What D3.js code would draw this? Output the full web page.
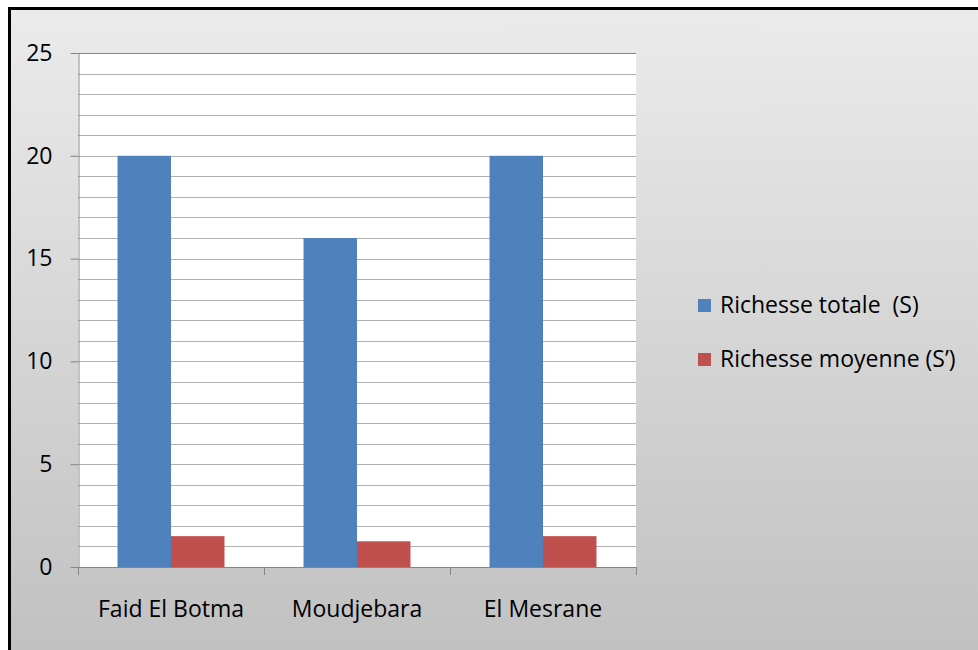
<!DOCTYPE html>
<html>
<head>
<meta charset="utf-8">
<script src="https://cdn.jsdelivr.net/npm/d3@7"></script>
<style>
  body { margin: 0; background: #fff; }
  text { font-family: "Open Sans", sans-serif; fill: #000; }
</style>
</head>
<body>
<div id="chart"></div>
<script>
// données
const sites = ["Faid El Botma", "Moudjebara", "El Mesrane"];
const series = ["Richesse totale  (S)", "Richesse moyenne (S’)"];
const richesseTotale = [20, 16, 20];
const richesseMoyenne = [1.5, 1.25, 1.5];
const yTicks = [0, 5, 10, 15, 20, 25];
const colors = ["#4f81bd", "#c0504d"];

const W = 978, H = 650;
const plot = {left: 78, right: 636, top: 53, bottom: 567};

const svg = d3.select("#chart").append("svg")
    .attr("width", W)
    .attr("height", H);

// fond en dégradé
const grad = svg.append("defs").append("linearGradient")
    .attr("id", "bg")
    .attr("x1", 0).attr("y1", 0).attr("x2", 0).attr("y2", 1);
grad.append("stop").attr("offset", "0%").attr("stop-color", "#ebebeb");
grad.append("stop").attr("offset", "100%").attr("stop-color", "#bdbdbd");

svg.append("rect")
    .attr("x", 9.5).attr("y", 8.5)
    .attr("width", 1000).attr("height", 700)
    .attr("fill", "url(#bg)")
    .attr("stroke", "#000")
    .attr("stroke-width", 3);

// échelles
const x0 = d3.scaleBand()
    .domain(sites)
    .range([plot.left, plot.right]);

const groupW = x0.bandwidth() * 0.575;
const x1 = d3.scaleBand()
    .domain(series)
    .range([(x0.bandwidth() - groupW) / 2, (x0.bandwidth() + groupW) / 2]);

const y = d3.scaleLinear()
    .domain([0, 25])
    .range([plot.bottom, plot.top]);

// zone de tracé
svg.append("rect")
    .attr("x", plot.left).attr("y", plot.top)
    .attr("width", plot.right - plot.left)
    .attr("height", plot.bottom - plot.top)
    .attr("fill", "#fff");

// quadrillage (pas de 1)
svg.append("g")
    .selectAll("line")
    .data(d3.range(1, 26))
    .enter()
    .append("line")
    .attr("x1", plot.left).attr("x2", plot.right)
    .attr("y1", d => Math.round(y(d)) + 0.5)
    .attr("y2", d => Math.round(y(d)) + 0.5)
    .attr("stroke", d => d === 25 ? "#868686" : "#b0b0b0")
    .attr("stroke-width", 1);

// barres
const data = sites.map((s, i) => ({site: s, values: [richesseTotale[i], richesseMoyenne[i]]}));

const groups = svg.append("g")
    .selectAll("g")
    .data(data)
    .enter()
    .append("g")
    .attr("transform", d => `translate(${x0(d.site)},0)`);

groups.selectAll("rect")
    .data(d => d.values.map((v, j) => ({key: series[j], value: v, j: j})))
    .enter()
    .append("rect")
    .attr("x", d => x1(d.key))
    .attr("width", x1.bandwidth())
    .attr("y", d => y(d.value))
    .attr("height", d => y(0) - y(d.value))
    .attr("fill", d => colors[d.j]);

// axe y
const yAxis = svg.append("g")
    .attr("transform", `translate(${plot.left + 0.5},0)`)
    .call(d3.axisLeft(y).tickValues(yTicks).tickSize(8).tickPadding(18).tickSizeOuter(0));
yAxis.select(".domain").attr("stroke", "#868686");
yAxis.selectAll(".tick line").attr("stroke", "#868686");
yAxis.selectAll(".tick text")
    .style("font-size", "23px")
    .style("font-family", "'Open Sans', sans-serif")
    .attr("fill", "#000");

// axe x
const xAxisLine = svg.append("g");
xAxisLine.append("line")
    .attr("x1", plot.left).attr("x2", plot.right)
    .attr("y1", plot.bottom + 0.5).attr("y2", plot.bottom + 0.5)
    .attr("stroke", "#868686");
xAxisLine.selectAll(".sep")
    .data(sites.map(s => x0(s)).concat([plot.right]))
    .enter()
    .append("line")
    .attr("x1", d => Math.round(d) + 0.5).attr("x2", d => Math.round(d) + 0.5)
    .attr("y1", plot.bottom).attr("y2", plot.bottom + 8)
    .attr("stroke", "#868686");

svg.append("g")
    .selectAll("text")
    .data(sites)
    .enter()
    .append("text")
    .attr("x", d => x0(d) + x0.bandwidth() / 2)
    .attr("y", 617)
    .attr("text-anchor", "middle")
    .style("font-size", "23px")
    .text(d => d);

// légende
const legend = svg.append("g")
    .selectAll("g")
    .data(series)
    .enter()
    .append("g")
    .attr("transform", (d, i) => `translate(698,${299 + i * 54})`);

legend.append("rect")
    .attr("width", 13)
    .attr("height", 13)
    .attr("fill", (d, i) => colors[i]);

legend.append("text")
    .attr("x", 22)
    .attr("y", 14)
    .style("font-size", "23px")
    .style("white-space", "pre")
    .text(d => d);
</script>
</body>
</html>
